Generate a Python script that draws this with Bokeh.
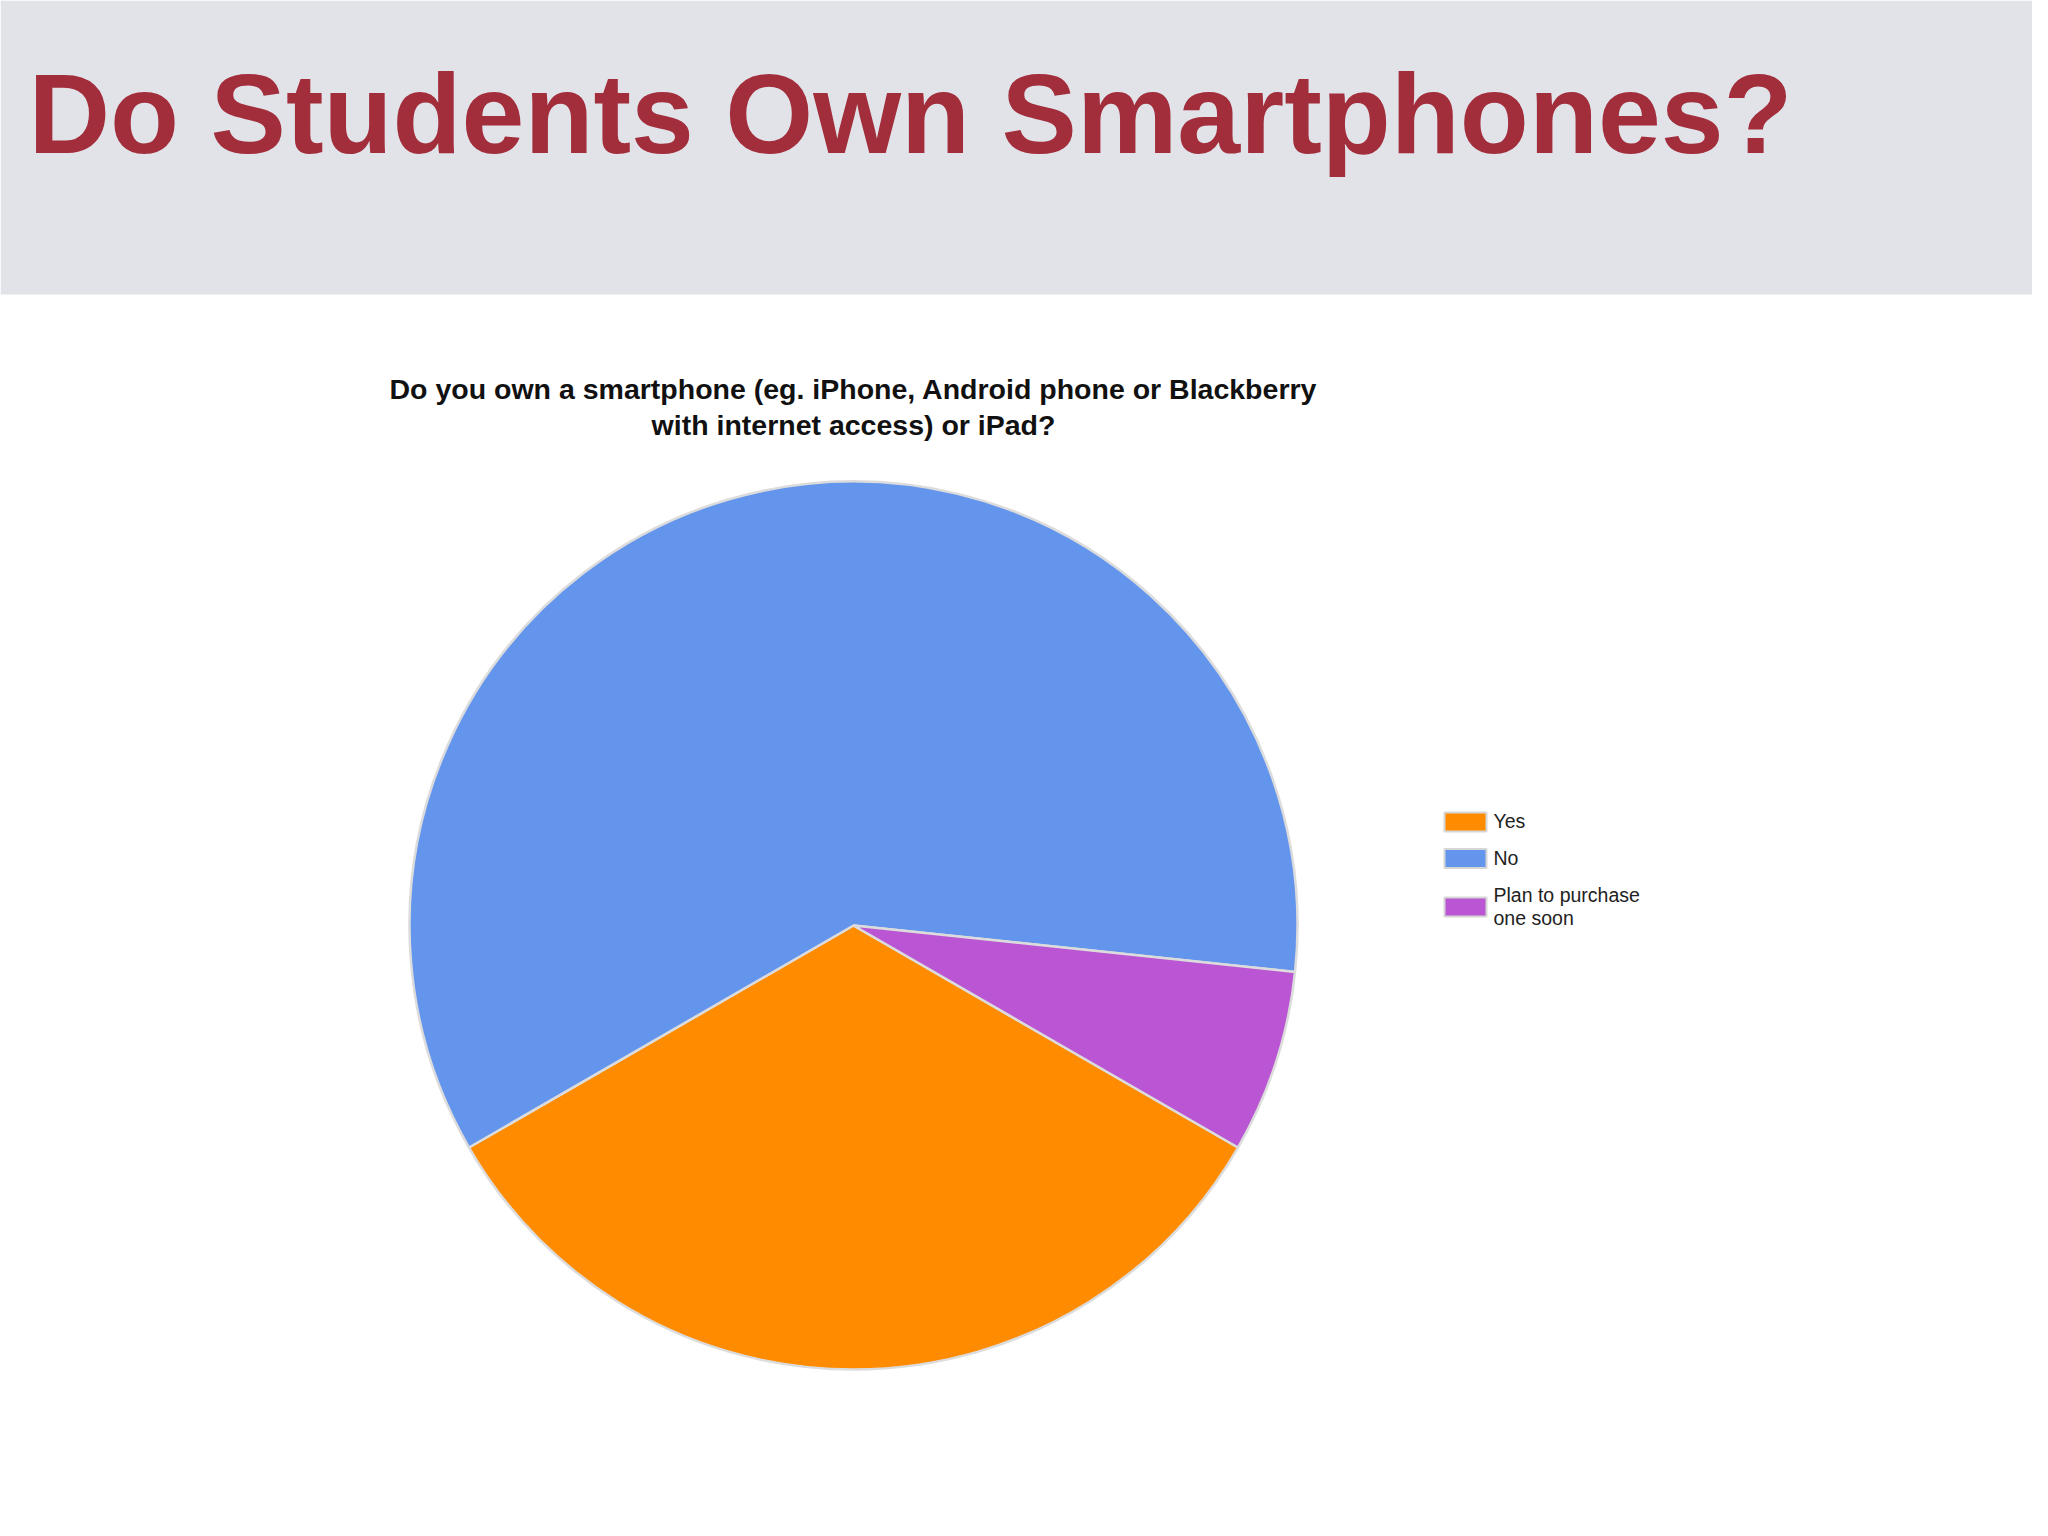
import math
from bokeh.plotting import figure
from bokeh.models import Range1d, ColumnDataSource
from bokeh.core.properties import value
from bokeh.embed import file_html
from bokeh.resources import INLINE

# ---- data ----
page_title = "Do Students Own Smartphones?"
chart_title = ["Do you own a smartphone (eg. iPhone, Android phone or Blackberry",
               "with internet access) or iPad?"]
categories = ["Yes", "No", "Plan to purchase one soon"]
legend_labels = ["Yes", "No", "Plan to purchase\none soon"]
counts = [5, 9, 1]
colors = ["#ff8c00", "#6495ed", "#ba55d3"]

# ---- layout (pixel coordinates, y up) ----
W, H = 2032, 1520
def sy(y):  # screen y (from top) -> data y
    return H - y

p = figure(width=W, height=H, output_backend="svg", toolbar_location=None,
           x_range=Range1d(0, W), y_range=Range1d(0, H),
           x_axis_location=None, y_axis_location=None,
           min_border=0, outline_line_color=None, background_fill_color="white",
           border_fill_color="white")
p.grid.visible = False

# header band
p.quad(left=0, right=W, bottom=sy(294), top=H, fill_color="#e2e3e9", line_color=None)
p.text(x=[28], y=[sy(113)], text=[page_title], text_font=value("Liberation Sans"),
       text_font_style="bold", text_font_size="113px", text_color="#a22d3b",
       text_baseline="alphabetic", text_align="left")

# chart title
cx, cy, r = 853, sy(925), 444
p.text(x=[cx, cx], y=[sy(388.5), sy(424.5)], text=chart_title,
       text_font=value("Liberation Sans"), text_font_style="bold", text_font_size="28.5px",
       text_color="#111111", text_baseline="alphabetic", text_align="center")

# pie
total = sum(counts)
base = -math.pi / 6
starts, ends = [], []
cum = 0
for c in counts:
    starts.append(base - cum / total * 2 * math.pi)
    cum += c
    ends.append(base - cum / total * 2 * math.pi)
src = ColumnDataSource(dict(start=starts, end=ends, color=colors, cat=categories))
p.wedge(x=cx, y=cy, radius=r, start_angle="start", end_angle="end", direction="clock",
        fill_color="color", line_color="#dcdcdc", line_width=2.5, source=src)

# legend
sw_y = [sy(821.5), sy(858), sy(906.5)]
p.rect(x=[1465] * 3, y=sw_y, width=42, height=19, fill_color=colors,
       line_color="#d6d6d6", line_width=2)
p.text(x=[1493] * 3, y=[sy(820), sy(857), sy(906)], text=legend_labels,
       text_font=value("Liberation Sans"), text_font_size="19.5px", text_color="#222222",
       text_baseline="alphabetic", text_align="left", text_line_height=1.03)

open("out.html", "w").write(file_html(p, INLINE))
